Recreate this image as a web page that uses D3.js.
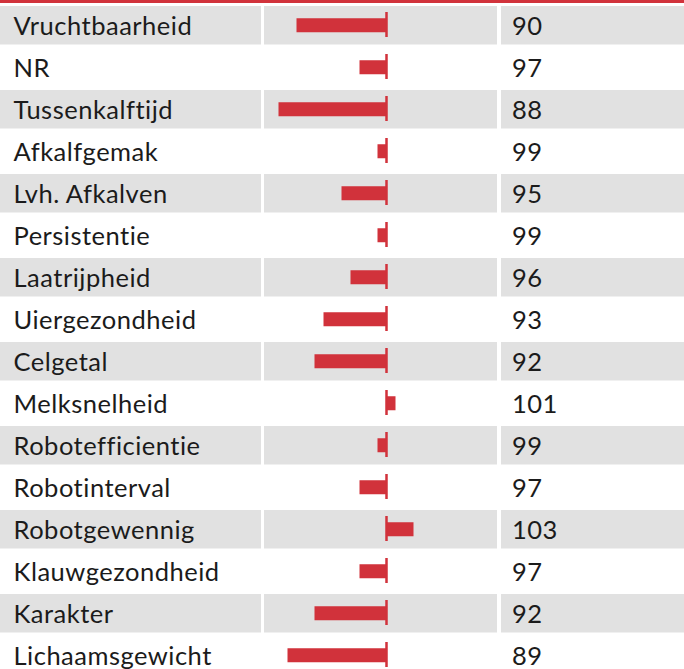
<!DOCTYPE html>
<html>
<head>
    <meta charset="UTF-8">
    <title>Kengetallen</title>
    <script src="https://cdn.jsdelivr.net/npm/d3@7"></script>
    <style>
        body { margin: 0; background: #fff; }
        svg { display: block; }
        .label, .value {
            font-family: Lato, "Noto Sans", sans-serif;
            font-size: 25.5px;
            letter-spacing: 0.5px;
            fill: #1b1b1b;
        }
    </style>
</head>
<body>
    <svg width="684" height="669"></svg>
    <script>
        // kenmerken en indexwaarden (100 = gemiddeld)
        var labels = ['Vruchtbaarheid', 'NR', 'Tussenkalftijd', 'Afkalfgemak', 'Lvh. Afkalven',
            'Persistentie', 'Laatrijpheid', 'Uiergezondheid', 'Celgetal', 'Melksnelheid',
            'Robotefficientie', 'Robotinterval', 'Robotgewennig', 'Klauwgezondheid', 'Karakter',
            'Lichaamsgewicht'];
        var values = [90, 97, 88, 99, 95, 99, 96, 93, 92, 101, 99, 97, 103, 97, 92, 89];
        var baseline = 100;

        var data = labels.map(function (l, i) { return { label: l, value: values[i], i: i }; });

        var svg = d3.select('svg'),
            red = '#d1323b',
            grey = '#e1e1e1';

        var y = d3.scaleBand()
            .domain(labels)
            .range([6, 6 + 16 * 42 - 3.5])
            .paddingInner(3.5 / 42)
            .paddingOuter(0);

        var x = d3.scaleLinear().domain([80, 110]).range([386.5 - 180, 386.5 + 90]);

        // kolommen
        var cols = [[0, 261], [264, 497], [501, 684]];

        svg.append('rect')
            .attr('x', 0).attr('y', 0)
            .attr('width', 684).attr('height', 3)
            .attr('fill', red);

        var rows = svg.selectAll('g.row')
            .data(data)
            .enter().append('g')
            .attr('class', 'row')
            .attr('transform', d => 'translate(0,' + y(d.label) + ')');

        rows.filter(d => d.i % 2 === 0)
            .selectAll('rect.cell')
            .data(cols)
            .enter().append('rect')
            .attr('class', 'cell')
            .attr('x', c => c[0])
            .attr('width', c => c[1] - c[0])
            .attr('height', y.bandwidth())
            .attr('fill', grey);

        rows.append('text')
            .attr('class', 'label')
            .attr('x', 13.5)
            .attr('y', y.bandwidth() / 2 + 10)
            .text(d => d.label);

        rows.append('text')
            .attr('class', 'value')
            .attr('x', 512)
            .attr('y', y.bandwidth() / 2 + 10)
            .text(d => d.value);

        rows.append('rect')
            .attr('x', d => Math.min(x(d.value), x(baseline)))
            .attr('y', y.bandwidth() / 2 - 7)
            .attr('width', d => Math.abs(x(d.value) - x(baseline)))
            .attr('height', 14)
            .attr('fill', red);

        rows.append('rect')
            .attr('x', x(baseline) - 1.25)
            .attr('y', 6)
            .attr('width', 2.5)
            .attr('height', 25)
            .attr('fill', red);
    </script>
</body>
</html>
